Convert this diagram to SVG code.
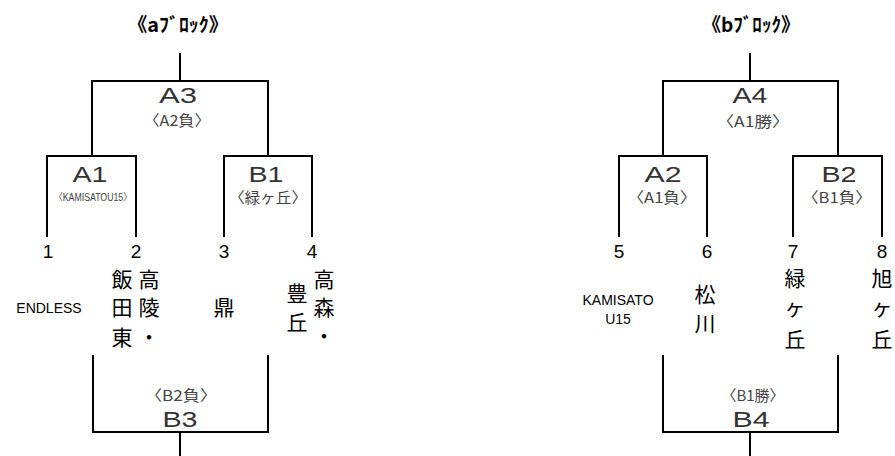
<svg xmlns="http://www.w3.org/2000/svg" width="895" height="456" viewBox="0 0 895 456">
<style>
.ln{fill:none;stroke:#000;stroke-width:2}
.ttl{font-family:"Noto Sans CJK JP","Liberation Sans",sans-serif;font-size:19px;font-weight:bold;fill:#000;text-anchor:middle}
.mid{font-family:"Liberation Sans","Noto Sans CJK JP",sans-serif;font-size:22px;fill:#333;text-anchor:middle}
.sub{font-family:"Noto Sans CJK JP","Liberation Sans",sans-serif;font-size:15px;fill:#444;text-anchor:middle}
.sm{font-family:"Liberation Sans","Noto Sans CJK JP",sans-serif;font-size:10px;fill:#444;text-anchor:middle}
.num{font-family:"Liberation Sans",sans-serif;font-size:19px;fill:#000;text-anchor:middle}
.tm{font-family:"Noto Sans CJK JP",sans-serif;font-size:21px;fill:#000;text-anchor:middle}
.en{font-family:"Liberation Sans",sans-serif;font-size:14px;fill:#000;text-anchor:middle}
</style>
<rect width="895" height="456" fill="#fff"/>
<g id="connectors">
<path class="ln" d="M180,53V81"/>
<path class="ln" d="M92,156V81H268V156"/>
<path class="ln" d="M47,237V156H136V237"/>
<path class="ln" d="M224,237V156H312V237"/>
<path class="ln" d="M93,355V432H268V355"/>
<path class="ln" d="M180,432V456"/>
<path class="ln" d="M750,53V81"/>
<path class="ln" d="M663,156V81H838V156"/>
<path class="ln" d="M619,237V156H707V237"/>
<path class="ln" d="M793,237V156H882V237"/>
<path class="ln" d="M663,355V432H838V355"/>
<path class="ln" d="M750,432V456"/>
</g>
<g id="title-a"><text class="ttl" x="178" y="32" textLength="101" lengthAdjust="spacingAndGlyphs">《aﾌﾞﾛｯｸ》</text></g>
<g id="title-b"><text class="ttl" x="751" y="32" textLength="98" lengthAdjust="spacingAndGlyphs">《bﾌﾞﾛｯｸ》</text></g>
<g id="match-A3"><text class="mid" x="178" y="103" textLength="38" lengthAdjust="spacingAndGlyphs">A3</text><text class="sub" x="177" y="126" textLength="67" lengthAdjust="spacingAndGlyphs">〈A2負〉</text></g>
<g id="match-A1"><text class="mid" x="90" y="182" textLength="35" lengthAdjust="spacingAndGlyphs">A1</text><text class="sm" x="93" y="201" textLength="78" lengthAdjust="spacingAndGlyphs">〈KAMISATOU15〉</text></g>
<g id="match-B1"><text class="mid" x="266" y="182" textLength="35" lengthAdjust="spacingAndGlyphs">B1</text><text class="sub" x="268" y="203" textLength="78" lengthAdjust="spacingAndGlyphs">〈緑ヶ丘〉</text></g>
<g id="match-B3"><text class="sub" x="181" y="401" textLength="72" lengthAdjust="spacingAndGlyphs">〈B2負〉</text><text class="mid" x="180" y="427" textLength="35" lengthAdjust="spacingAndGlyphs">B3</text></g>
<g id="match-A4"><text class="mid" x="750" y="103" textLength="35" lengthAdjust="spacingAndGlyphs">A4</text><text class="sub" x="753" y="127" textLength="73" lengthAdjust="spacingAndGlyphs">〈A1勝〉</text></g>
<g id="match-A2"><text class="mid" x="663" y="182" textLength="37" lengthAdjust="spacingAndGlyphs">A2</text><text class="sub" x="662" y="203" textLength="69" lengthAdjust="spacingAndGlyphs">〈A1負〉</text></g>
<g id="match-B2"><text class="mid" x="839" y="182" textLength="35" lengthAdjust="spacingAndGlyphs">B2</text><text class="sub" x="837" y="203" textLength="70" lengthAdjust="spacingAndGlyphs">〈B1負〉</text></g>
<g id="match-B4"><text class="sub" x="753" y="401" textLength="63" lengthAdjust="spacingAndGlyphs">〈B1勝〉</text><text class="mid" x="751" y="427" textLength="37" lengthAdjust="spacingAndGlyphs">B4</text></g>
<g id="team-1"><text class="num" x="48" y="258">1</text><text class="en" x="49" y="313">ENDLESS</text></g>
<g id="team-2"><text class="num" x="136" y="258">2</text>
<text class="tm" x="149" y="287">高</text><text class="tm" x="149" y="315">陵</text><text class="tm" x="149" y="345">・</text>
<text class="tm" x="122" y="287">飯</text><text class="tm" x="122" y="315">田</text><text class="tm" x="122" y="345">東</text></g>
<g id="team-3"><text class="num" x="224" y="258">3</text><text class="tm" x="224" y="315">鼎</text></g>
<g id="team-4"><text class="num" x="312" y="258">4</text>
<text class="tm" x="324" y="287">高</text><text class="tm" x="324" y="315">森</text><text class="tm" x="324" y="344">・</text>
<text class="tm" x="297" y="301">豊</text><text class="tm" x="297" y="330">丘</text></g>
<g id="team-5"><text class="num" x="619" y="258">5</text><text class="en" x="618" y="305">KAMISATO</text><text class="en" x="618" y="324">U15</text></g>
<g id="team-6"><text class="num" x="707" y="258">6</text><text class="tm" x="705" y="302">松</text><text class="tm" x="705" y="331">川</text></g>
<g id="team-7"><text class="num" x="793" y="258">7</text><text class="tm" x="795" y="286">緑</text><text class="tm" x="795" y="315">ヶ</text><text class="tm" x="795" y="347">丘</text></g>
<g id="team-8"><text class="num" x="882" y="258">8</text><text class="tm" x="882" y="286">旭</text><text class="tm" x="882" y="315">ヶ</text><text class="tm" x="882" y="347">丘</text></g>
</svg>
